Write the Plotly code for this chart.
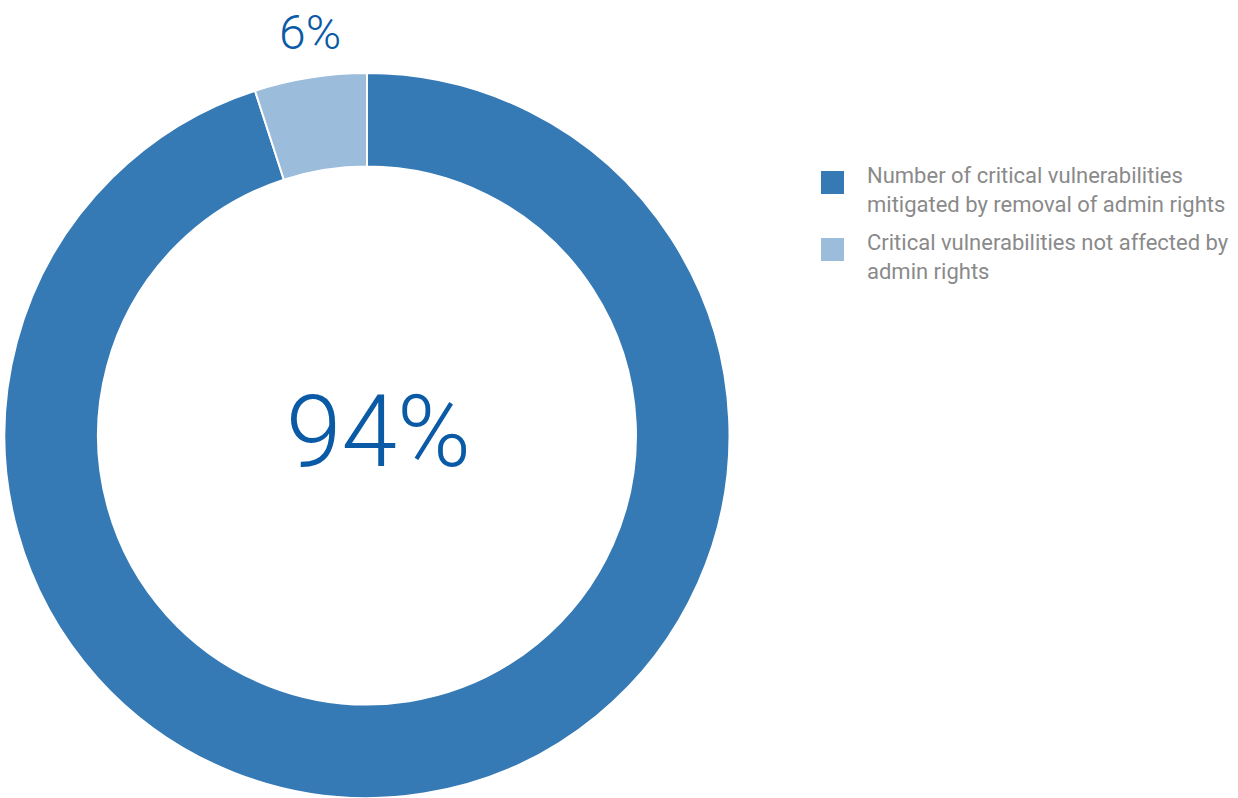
import plotly.graph_objects as go

categories = ["Number of critical vulnerabilities<br>mitigated by removal of admin rights",
              "Critical vulnerabilities not affected by<br>admin rights"]
values = [95, 5]
labels_text = ["94%", "6%"]
colors = ["#3579B5", "#9BBCDA"]

W, H = 1238, 798

def px(x):
    return x / W

def py(y):
    return 1 - y / H

fig = go.Figure(go.Pie(
    labels=categories, values=values, hole=0.742, sort=False, direction="clockwise",
    rotation=0, marker=dict(colors=colors, line=dict(color="white", width=2)),
    textinfo="none", hoverinfo="label+percent", showlegend=False,
    domain=dict(x=[px(4), px(730)], y=[0, py(73)]),
))

font_fam = "Roboto, 'Open Sans', sans-serif"
fig.add_annotation(x=px(378), y=py(431), xref="paper", yref="paper", text=labels_text[0],
                   showarrow=False, font=dict(size=100, color="#0A5AA6", family=font_fam, weight=300),
                   xanchor="center", yanchor="middle")
fig.add_annotation(x=px(310), y=py(32), xref="paper", yref="paper", text=labels_text[1],
                   showarrow=False, font=dict(size=48, color="#0A5AA6", family=font_fam, weight=300),
                   xanchor="center", yanchor="middle")

leg_tops = [171, 238]
for i, (cat, col) in enumerate(zip(categories, colors)):
    t = leg_tops[i]
    fig.add_shape(type="rect", xref="paper", yref="paper",
                  x0=px(821), x1=px(844), y0=py(t + 23), y1=py(t),
                  fillcolor=col, line=dict(width=0))
    fig.add_annotation(x=px(865), y=py(t + 19), xref="paper", yref="paper", text=cat,
                       showarrow=False, align="left", xanchor="left", yanchor="middle",
                       font=dict(size=22, color="#8A8A8A", family=font_fam))

fig.update_layout(width=W, height=H, margin=dict(l=0, r=0, t=0, b=0),
                  paper_bgcolor="white", plot_bgcolor="white")
fig.write_html("out.html", config={"displayModeBar": False},
               post_script="document.body.style.margin='0';document.body.style.overflow='hidden';")
